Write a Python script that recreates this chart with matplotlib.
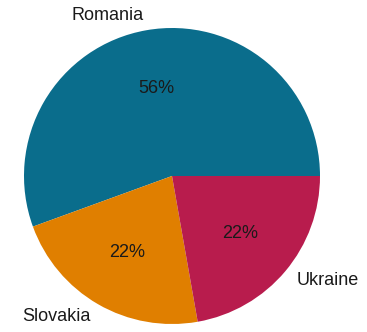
import matplotlib
matplotlib.use("Agg")
import matplotlib.pyplot as plt

countries = ["Romania", "Slovakia", "Ukraine"]
counts = [5, 2, 2]
colors = ["#0a6d8c", "#e07f00", "#b81c4d"]

plt.rcParams['font.family'] = ['Liberation Sans', 'DejaVu Sans']

fig = plt.figure(figsize=(3.67, 3.32), dpi=100)
r = 148
cx, cy = 172, 176
ax = fig.add_axes([(cx - r) / 367, (332 - cy - r) / 332, 2 * r / 367, 2 * r / 332])
ax.pie(counts, labels=countries, colors=colors, autopct='%1.0f%%',
       startangle=0, counterclock=True,
       textprops={'fontsize': 13, 'color': '#1a1a1a'})
ax.set_xlim(-1, 1)
ax.set_ylim(-1, 1)
ax.set_aspect('equal')
ax.axis('off')
fig.savefig("out.png", dpi=100)
